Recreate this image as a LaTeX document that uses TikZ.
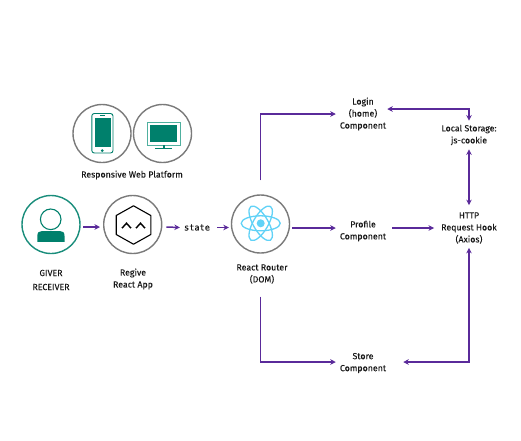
\documentclass[tikz,border=0pt]{standalone}
\usepackage{fontspec}
\setmainfont{Fira Sans}[FakeBold=0.05]
\setmonofont{DejaVu Sans Mono}[FakeBold=0.15]
\usetikzlibrary{arrows.meta,shapes.geometric}
\definecolor{teal1}{HTML}{00806C}
\definecolor{teal2}{HTML}{4FB09F}
\definecolor{ring}{HTML}{7A7A7A}
\definecolor{flowc}{HTML}{5A2A9A}
\definecolor{reactc}{HTML}{61D2F7}
\tikzset{
  badge/.style={circle,draw=ring,line width=1.4pt,minimum size=58pt,inner sep=0pt},
  tealbadge/.style={badge,draw=teal1!90!white},
  lbl/.style={align=center,font=\fontsize{8.8}{12}\selectfont,text=black!90,inner sep=4pt},
  flow/.style={draw=flowc,line width=1.5pt,-{Stealth[length=5.5pt,width=5.5pt]}},
  flowboth/.style={draw=flowc,line width=1.5pt,{Stealth[length=5.5pt,width=5.5pt]}-{Stealth[length=5.5pt,width=5.5pt]}},
}
\begin{document}
\begin{tikzpicture}[x=1pt,y=-1pt]
\useasboundingbox[fill=white] (0,0) rectangle (521,440);
% badges
\node[badge] (phone) at (102,133.5) {};
\node[badge] (monitor) at (162.5,133.5) {};
\node[tealbadge] (giver) at (51,224.5) {};
\node[badge] (regive) at (132.7,224.5) {};
\node[badge] (router) at (260.5,224) {};
% phone icon
\draw[teal1,line width=0.9pt,rounded corners=2.5pt] (91.8,113.5) rectangle (113,153);
\fill[teal1] (95,118) rectangle (110.7,147);
\fill[teal1] (102.3,150.6) circle (1.5);
\draw[teal1,line width=0.7pt] (100,115.7) -- (104.6,115.7);
% monitor icon
\draw[teal2,line width=0.9pt] (147.5,122) rectangle (180,145);
\fill[teal1] (150,124.7) rectangle (177.4,142.3);
\fill[teal1] (162.6,145) rectangle (164.6,148);
\draw[teal1,line width=0.9pt] (155,148.2) -- (171.7,148.2);
% person icon
\draw[teal1,line width=1.1pt] (50.7,219.3) circle (10.3);
\fill[teal1] (37.3,241.8) -- (37.3,236) .. controls (37.3,232.5) and (39,231) .. (42,231) -- (60,231) .. controls (63,231) and (64.5,232.5) .. (64.5,236) -- (64.5,241.8) -- cycle;
% hexagon logo
\draw[black,line width=1.1pt,line join=round] (133.5,205.8) -- (150.8,215.5) -- (150.8,234.5) -- (133.5,244.2) -- (116.2,234.5) -- (116.2,215.5) -- cycle;
\draw[black,line width=1.4pt] (122,228.2) -- (126.5,223.2) -- (131,228.2);
\draw[black,line width=1.4pt] (136,228.2) -- (140.5,223.2) -- (145,228.2);
% react logo
\begin{scope}[reactc,line width=1.3pt]
\draw (260.7,223.3) ellipse [x radius=19.5,y radius=7.5];
\draw[rotate around={60:(260.7,223.3)}] (260.7,223.3) ellipse [x radius=19.5,y radius=7.5];
\draw[rotate around={-60:(260.7,223.3)}] (260.7,223.3) ellipse [x radius=19.5,y radius=7.5];
\fill (260.7,223.3) circle (4);
\end{scope}
% labels
\node[lbl] (resp) at (132,175) {Responsive Web Platform};
\node[lbl] (glabel) at (51,273) {GIVER};
\node[lbl] (rlabel) at (51,287) {RECEIVER};
\node[lbl] (reglabel) at (133,279) {Regive\\React App};
\node[lbl] (rrlabel) at (262,274) {React Router\\(DOM)};
\node[lbl] (state) at (197,227.5) {\ttfamily\fontsize{8.6}{10}\selectfont state};
\node[lbl] (login) at (363,114) {Login\\(home)\\Component};
\node[lbl] (profile) at (363,231) {Profile\\Component};
\node[lbl] (store) at (363,363) {Store\\Component};
\node[lbl] (local) at (469,135) {Local Storage:\\js-cookie};
\node[lbl] (http) at (469,228) {HTTP\\Request Hook\\(Axios)};
% connectors
\draw[flow,shorten <=2.5pt,shorten >=3pt] ([yshift=-2.5pt]giver.east) -- ([yshift=-2.5pt]regive.west);
\draw[flow] ([yshift=-2.5pt,xshift=4pt]regive.east) -- (state.west);
\draw[flow,shorten <=3pt,shorten >=2pt] (state.east) -- ([yshift=-3.5pt]router.west);
\draw[flow,shorten <=2pt] ([yshift=-4pt]router.east) -- ([yshift=3pt]profile.west);
\draw[flow,shorten >=3pt] ([yshift=3pt,xshift=2pt]profile.east) -- (http.west);
\draw[flow,shorten <=14pt] (router.north) |- (login.west);
\draw[flow,shorten <=43pt] (router.south) |- ([yshift=1pt]store.west);
\draw[flowboth] ([yshift=5pt,xshift=-3pt]login.east) -| (local.north);
\draw[flowboth,shorten >=3pt] (local.south) -- (http.north);
\draw[flowboth] ([xshift=13pt,yshift=1pt]store.east) -| (http.south);
\end{tikzpicture}
\end{document}
